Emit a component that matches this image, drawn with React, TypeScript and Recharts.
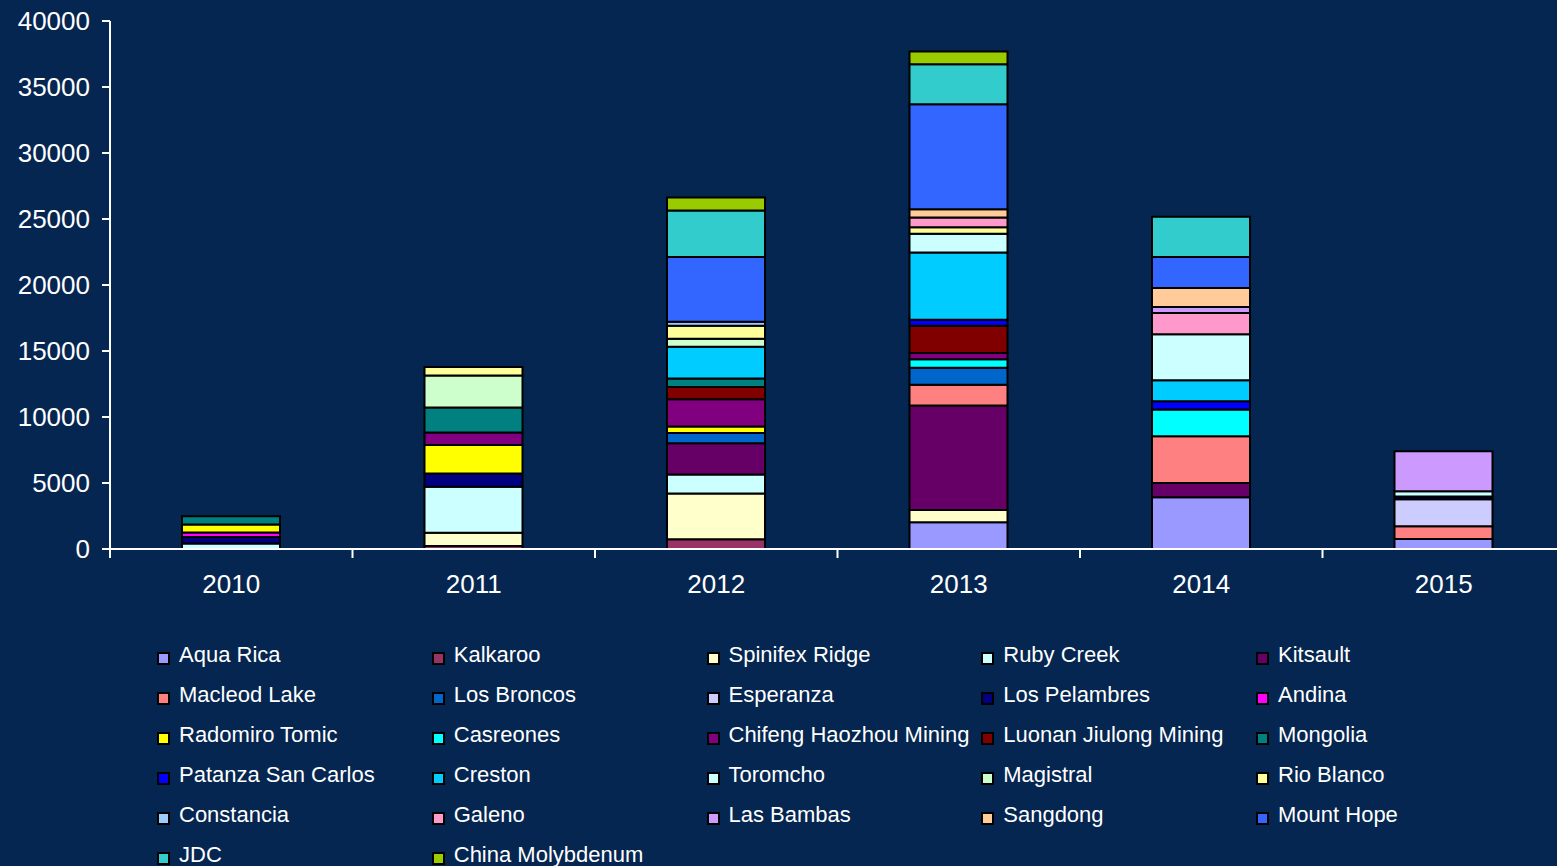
import React from 'react'
import { BarChart, Bar, XAxis, YAxis } from 'recharts'

const years = ['2010', '2011', '2012', '2013', '2014', '2015']

const mines = [
  'Aqua Rica', 'Kalkaroo', 'Spinifex Ridge', 'Ruby Creek', 'Kitsault',
  'Macleod Lake', 'Los Broncos', 'Esperanza', 'Los Pelambres', 'Andina',
  'Radomiro Tomic', 'Casreones', 'Chifeng Haozhou Mining', 'Luonan Jiulong Mining', 'Mongolia',
  'Patanza San Carlos', 'Creston', 'Toromcho', 'Magistral', 'Rio Blanco',
  'Constancia', 'Galeno', 'Las Bambas', 'Sangdong', 'Mount Hope',
  'JDC', 'China Molybdenum',
]

const mineColors = [
  '#9999FF', '#993366', '#FFFFCC', '#CCFFFF', '#660066',
  '#FF8080', '#0066CC', '#CCCCFF', '#000080', '#FF00FF',
  '#FFFF00', '#00FFFF', '#800080', '#800000', '#008080',
  '#0000FF', '#00CCFF', '#CCFFFF', '#CCFFCC', '#FFFF99',
  '#99CCFF', '#FF99CC', '#CC99FF', '#FFCC99', '#3366FF',
  '#33CCCC', '#99CC00',
]

// one value per mine, same order as `mines`
const v2010 = [0, 0, 0, 420, 0, 0, 0, 0, 490, 340, 600, 0, 0, 0, 640, 0, 0, 0, 0, 0, 0, 0, 0, 0, 0, 0, 0]
const v2011 = [0, 230, 1000, 3490, 0, 0, 0, 0, 1000, 0, 2160, 0, 950, 0, 1890, 0, 0, 0, 2420, 640, 0, 0, 0, 0, 0, 0, 0]
const v2012 = [0, 730, 3480, 1440, 2370, 0, 760, 0, 0, 0, 500, 0, 2070, 930, 640, 0, 2400, 0, 610, 980, 300, 0, 0, 0, 4920, 3510, 980]
const v2013 = [2020, 0, 930, 0, 7930, 1560, 1290, 0, 0, 0, 0, 640, 480, 2070, 0, 450, 5100, 1410, 0, 500, 0, 730, 0, 630, 7950, 3030, 960]
const v2014 = [3920, 0, 0, 0, 1080, 3540, 0, 0, 0, 0, 0, 2020, 0, 0, 0, 630, 1590, 3480, 0, 0, 0, 1620, 450, 1440, 2350, 3050, 0]
const v2015 = [760, 0, 0, 0, 0, 960, 0, 2050, 200, 0, 0, 0, 0, 0, 0, 0, 0, 400, 0, 0, 0, 0, 3030, 0, 0, 0, 0]

const yTicks = [0, 5000, 10000, 15000, 20000, 25000, 30000, 35000, 40000]

const byYear = [v2010, v2011, v2012, v2013, v2014, v2015]
const data = years.map((year, i) => {
  const row: Record<string, string | number> = { year }
  mines.forEach((m, j) => { row[m] = byYear[i][j] })
  return row
})

const BG = '#052650'
const CHART_W = 1575
const CHART_H = 610
const Y_AXIS_W = 110
const MARGIN = { top: 21, right: 10, bottom: 11, left: 0 }
const PLOT_W = CHART_W - MARGIN.left - MARGIN.right - Y_AXIS_W

function YearTick({ x, y, payload }: any) {
  const half = PLOT_W / years.length / 2
  return (
    <g>
      <line x1={x - half} x2={x - half} y1={y} y2={y + 9} stroke="#fff" strokeWidth={2} />
      <text x={x} y={y + 44} textAnchor="middle" fill="#fff" fontSize={26}>{payload.value}</text>
    </g>
  )
}

export default function App() {
  return (
    <div style={{
      position: 'absolute', left: 0, top: 0, width: 1557, height: 866, overflow: 'hidden',
      background: BG, fontFamily: '"Liberation Sans", Arial, sans-serif',
    }}>
      <BarChart width={CHART_W} height={CHART_H} data={data} margin={MARGIN} barSize={98}>
        <XAxis
          dataKey="year"
          height={50}
          axisLine={{ stroke: '#fff', strokeWidth: 2 }}
          tickLine={false}
          tickSize={0}
          tickMargin={0}
          tick={<YearTick />}
        />
        <YAxis
          width={Y_AXIS_W}
          domain={[0, 40000]}
          ticks={yTicks}
          interval={0}
          axisLine={{ stroke: '#fff', strokeWidth: 2 }}
          tickLine={{ stroke: '#fff', strokeWidth: 2 }}
          tickSize={8}
          tickMargin={12}
          tick={{ fill: '#fff', fontSize: 26 }}
        />
        {mines.map((m, j) => (
          <Bar
            key={m}
            dataKey={m}
            stackId="a"
            fill={mineColors[j]}
            stroke="#000"
            strokeWidth={2}
            isAnimationActive={false}
          />
        ))}
      </BarChart>

      <div style={{
        position: 'absolute', left: 157, top: 635,
        display: 'grid', gridTemplateColumns: 'repeat(5, 274.75px)', gridAutoRows: '40px',
      }}>
        {mines.map((m, j) => (
          <div key={m} style={{ display: 'flex', alignItems: 'center', color: '#fff', fontSize: 22, whiteSpace: 'nowrap' }}>
            <span style={{
              display: 'inline-block', width: 9, height: 9, marginTop: 7, marginRight: 9,
              background: mineColors[j], border: '2px solid #000',
            }} />
            {m}
          </div>
        ))}
      </div>
    </div>
  )
}
